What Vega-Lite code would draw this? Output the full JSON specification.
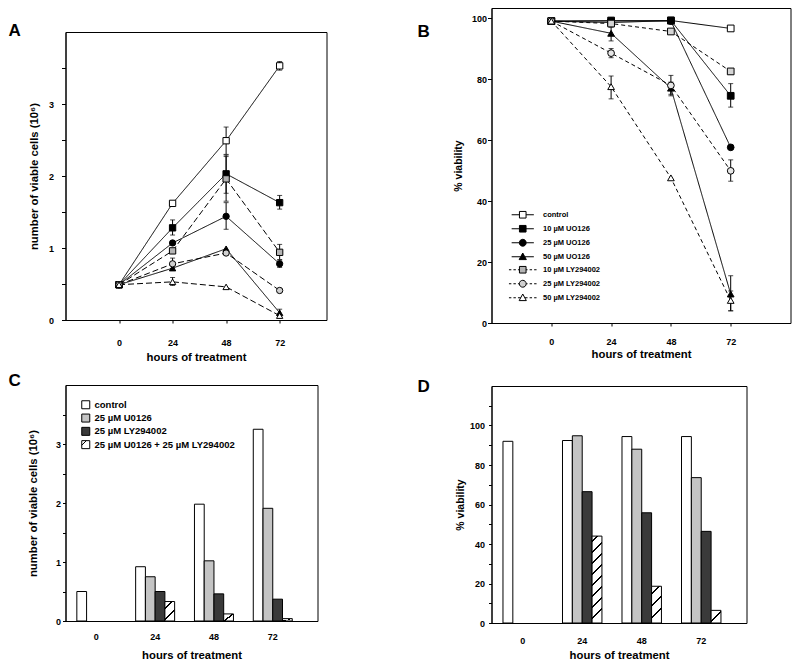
{
  "padding": {"left": 7.5, "top": 7, "right": 0, "bottom": 0},
  "datasets": {
    "A": [
      {"series": "control", "hour": 0, "value": 0.49}, {"series": "control", "hour": 24, "value": 1.62}, {"series": "control", "hour": 48, "value": 2.49}, {"series": "control", "hour": 72, "value": 3.53},
      {"series": "10 µM UO126", "hour": 0, "value": 0.49}, {"series": "10 µM UO126", "hour": 24, "value": 1.28}, {"series": "10 µM UO126", "hour": 48, "value": 2.03}, {"series": "10 µM UO126", "hour": 72, "value": 1.63},
      {"series": "25 µM UO126", "hour": 0, "value": 0.49}, {"series": "25 µM UO126", "hour": 24, "value": 1.07}, {"series": "25 µM UO126", "hour": 48, "value": 1.44}, {"series": "25 µM UO126", "hour": 72, "value": 0.78},
      {"series": "50 µM UO126", "hour": 0, "value": 0.49}, {"series": "50 µM UO126", "hour": 24, "value": 0.72}, {"series": "50 µM UO126", "hour": 48, "value": 0.99}, {"series": "50 µM UO126", "hour": 72, "value": 0.10},
      {"series": "10 µM LY294002", "hour": 0, "value": 0.49}, {"series": "10 µM LY294002", "hour": 24, "value": 0.96}, {"series": "10 µM LY294002", "hour": 48, "value": 1.96}, {"series": "10 µM LY294002", "hour": 72, "value": 0.94},
      {"series": "25 µM LY294002", "hour": 0, "value": 0.49}, {"series": "25 µM LY294002", "hour": 24, "value": 0.78}, {"series": "25 µM LY294002", "hour": 48, "value": 0.93}, {"series": "25 µM LY294002", "hour": 72, "value": 0.41},
      {"series": "50 µM LY294002", "hour": 0, "value": 0.49}, {"series": "50 µM LY294002", "hour": 24, "value": 0.53}, {"series": "50 µM LY294002", "hour": 48, "value": 0.46}, {"series": "50 µM LY294002", "hour": 72, "value": 0.06}
    ],
    "Aerr": [
      {"series": "control", "hour": 48, "lo": 2.30, "hi": 2.68}, {"series": "control", "hour": 72, "lo": 3.47, "hi": 3.59},
      {"series": "10 µM UO126", "hour": 24, "lo": 1.18, "hi": 1.39}, {"series": "10 µM UO126", "hour": 48, "lo": 1.76, "hi": 2.29}, {"series": "10 µM UO126", "hour": 72, "lo": 1.54, "hi": 1.73},
      {"series": "25 µM UO126", "hour": 48, "lo": 1.26, "hi": 1.63}, {"series": "25 µM UO126", "hour": 72, "lo": 0.73, "hi": 0.83},
      {"series": "50 µM UO126", "hour": 72, "lo": 0.05, "hi": 0.15},
      {"series": "10 µM LY294002", "hour": 48, "lo": 1.65, "hi": 2.27}, {"series": "10 µM LY294002", "hour": 72, "lo": 0.84, "hi": 1.05},
      {"series": "25 µM LY294002", "hour": 24, "lo": 0.71, "hi": 0.86},
      {"series": "50 µM LY294002", "hour": 24, "lo": 0.48, "hi": 0.59}
    ],
    "B": [
      {"series": "control", "hour": 0, "value": 99}, {"series": "control", "hour": 24, "value": 98.5}, {"series": "control", "hour": 48, "value": 99.2}, {"series": "control", "hour": 72, "value": 96.6},
      {"series": "10 µM UO126", "hour": 0, "value": 99}, {"series": "10 µM UO126", "hour": 24, "value": 99.2}, {"series": "10 µM UO126", "hour": 48, "value": 99.2}, {"series": "10 µM UO126", "hour": 72, "value": 74.5},
      {"series": "25 µM UO126", "hour": 0, "value": 99}, {"series": "25 µM UO126", "hour": 24, "value": 99}, {"series": "25 µM UO126", "hour": 48, "value": 99}, {"series": "25 µM UO126", "hour": 72, "value": 57.6},
      {"series": "50 µM UO126", "hour": 0, "value": 99}, {"series": "50 µM UO126", "hour": 24, "value": 95}, {"series": "50 µM UO126", "hour": 48, "value": 77}, {"series": "50 µM UO126", "hour": 72, "value": 9.5},
      {"series": "10 µM LY294002", "hour": 0, "value": 99}, {"series": "10 µM LY294002", "hour": 24, "value": 98.2}, {"series": "10 µM LY294002", "hour": 48, "value": 95.6}, {"series": "10 µM LY294002", "hour": 72, "value": 82.5},
      {"series": "25 µM LY294002", "hour": 0, "value": 99}, {"series": "25 µM LY294002", "hour": 24, "value": 88.5}, {"series": "25 µM LY294002", "hour": 48, "value": 77.9}, {"series": "25 µM LY294002", "hour": 72, "value": 49.9},
      {"series": "50 µM LY294002", "hour": 0, "value": 99}, {"series": "50 µM LY294002", "hour": 24, "value": 77.5}, {"series": "50 µM LY294002", "hour": 48, "value": 47.6}, {"series": "50 µM LY294002", "hour": 72, "value": 7.4}
    ],
    "Berr": [
      {"series": "10 µM UO126", "hour": 72, "lo": 70.8, "hi": 78.5},
      {"series": "50 µM UO126", "hour": 24, "lo": 92.5, "hi": 97},
      {"series": "50 µM UO126", "hour": 48, "lo": 75, "hi": 79},
      {"series": "50 µM UO126", "hour": 72, "lo": 4, "hi": 15.5},
      {"series": "25 µM LY294002", "hour": 24, "lo": 87, "hi": 90},
      {"series": "25 µM LY294002", "hour": 48, "lo": 74.5, "hi": 81.2},
      {"series": "25 µM LY294002", "hour": 72, "lo": 46.5, "hi": 53.5},
      {"series": "50 µM LY294002", "hour": 24, "lo": 73.5, "hi": 81},
      {"series": "50 µM LY294002", "hour": 72, "lo": 4, "hi": 10.5}
    ],
    "C": [
      {"hour": "0", "treatment": "control", "value": 0.50},
      {"hour": "24", "treatment": "control", "value": 0.92}, {"hour": "24", "treatment": "25 µM U0126", "value": 0.75}, {"hour": "24", "treatment": "25 µM LY294002", "value": 0.50}, {"hour": "24", "treatment": "25 µM U0126 + 25 µM LY294002", "value": 0.33},
      {"hour": "48", "treatment": "control", "value": 1.98}, {"hour": "48", "treatment": "25 µM U0126", "value": 1.02}, {"hour": "48", "treatment": "25 µM LY294002", "value": 0.46}, {"hour": "48", "treatment": "25 µM U0126 + 25 µM LY294002", "value": 0.12},
      {"hour": "72", "treatment": "control", "value": 3.25}, {"hour": "72", "treatment": "25 µM U0126", "value": 1.91}, {"hour": "72", "treatment": "25 µM LY294002", "value": 0.37}, {"hour": "72", "treatment": "25 µM U0126 + 25 µM LY294002", "value": 0.04}
    ],
    "D": [
      {"hour": "0", "treatment": "control", "value": 92.0},
      {"hour": "24", "treatment": "control", "value": 92.4}, {"hour": "24", "treatment": "25 µM U0126", "value": 94.8}, {"hour": "24", "treatment": "25 µM LY294002", "value": 66.5}, {"hour": "24", "treatment": "25 µM U0126 + 25 µM LY294002", "value": 44.0},
      {"hour": "48", "treatment": "control", "value": 94.4}, {"hour": "48", "treatment": "25 µM U0126", "value": 88.0}, {"hour": "48", "treatment": "25 µM LY294002", "value": 55.8}, {"hour": "48", "treatment": "25 µM U0126 + 25 µM LY294002", "value": 18.6},
      {"hour": "72", "treatment": "control", "value": 94.4}, {"hour": "72", "treatment": "25 µM U0126", "value": 73.6}, {"hour": "72", "treatment": "25 µM LY294002", "value": 46.4}, {"hour": "72", "treatment": "25 µM U0126 + 25 µM LY294002", "value": 6.4}
    ]
  },
  "config": {
    "font": "Liberation Sans",
    "view": {"stroke": "black", "strokeWidth": 1},
    "axis": {"grid": false, "domainColor": "black", "tickColor": "black", "labelColor": "black", "titleColor": "black", "labelFont": "Liberation Sans", "labelFontWeight": "bold", "labelFontSize": 9, "titleFont": "Liberation Sans", "titleFontWeight": "bold", "titleFontSize": 11.3, "tickSize": 4, "labelOverlap": false, "labelFlush": false},
    "title": {"font": "Liberation Sans", "fontWeight": "bold", "fontSize": 17, "anchor": "start", "frame": "group", "offset": 0, "color": "black"},
    "legend": {"labelFont": "Liberation Sans", "labelFontWeight": "bold", "labelColor": "black", "symbolOpacity": 1}
  },
  "resolve": {"scale": {"shape": "independent", "fill": "independent", "stroke": "independent", "strokeDash": "independent", "xOffset": "independent"}, "legend": {"shape": "independent", "fill": "independent", "stroke": "independent", "strokeDash": "independent"}},
  "spacing": 89,
  "hconcat": [
    {
      "spacing": 8,
      "resolve": {"scale": {"shape": "independent", "fill": "independent", "stroke": "independent", "strokeDash": "independent", "xOffset": "independent"}, "legend": {"shape": "independent", "fill": "independent", "stroke": "independent", "strokeDash": "independent"}},
      "vconcat": [
        {
          "width": 1, "height": 5,
          "view": {"stroke": null},
          "data": {"values": []},
          "mark": {"type": "point", "opacity": 0},
          "encoding": {}
        },
        {
          "width": 261, "height": 288,
          "title": {"text": "A", "baseline": "alphabetic", "dx": -57, "dy": 25},
          "layer": [
            {
              "data": {"name": "A"},
              "mark": {"type": "line", "color": "black", "strokeWidth": 1},
              "encoding": {
                "x": {"field": "hour", "type": "quantitative", "title": "hours of treatment", "scale": {"domain": [-24, 93], "nice": false, "zero": false}, "axis": {"values": [0, 24, 48, 72], "tickSize": 3, "labelPadding": 15, "titlePadding": 4}},
                "y": {"field": "value", "type": "quantitative", "title": "number of viable cells  (10⁶)", "scale": {"domain": [0, 4], "nice": false}, "axis": {"values": [0, 0.5, 1, 1.5, 2, 2.5, 3, 3.5], "format": ".0f", "labelExpr": "datum.value % 1 === 0 ? datum.label : ''", "labelPadding": 8, "titlePadding": 9}},
                "detail": {"field": "series"},
                "strokeDash": {"field": "series", "type": "nominal", "legend": null, "scale": {"domain": ["control", "10 µM UO126", "25 µM UO126", "50 µM UO126", "10 µM LY294002", "25 µM LY294002", "50 µM LY294002"], "range": [[1, 0], [1, 0], [1, 0], [1, 0], [6, 3], [6, 3], [6, 3]]}}
              }
            },
            {
              "data": {"name": "Aerr"},
              "mark": {"type": "errorbar", "ticks": true, "color": "black", "thickness": 1, "size": 5},
              "encoding": {
                "x": {"field": "hour", "type": "quantitative", "title": "hours of treatment", "scale": {"domain": [-24, 93], "nice": false, "zero": false}},
                "y": {"field": "lo", "type": "quantitative", "title": "number of viable cells  (10⁶)", "scale": {"domain": [0, 4], "nice": false}},
                "y2": {"field": "hi"}
              }
            },
            {
              "data": {"name": "A"},
              "mark": {"type": "point", "filled": true, "stroke": "black", "strokeWidth": 1, "size": 40, "opacity": 1},
              "encoding": {
                "x": {"field": "hour", "type": "quantitative", "title": "hours of treatment", "scale": {"domain": [-24, 93], "nice": false, "zero": false}},
                "y": {"field": "value", "type": "quantitative", "title": "number of viable cells  (10⁶)", "scale": {"domain": [0, 4], "nice": false}},
                "shape": {"field": "series", "type": "nominal", "legend": null, "scale": {"domain": ["control", "10 µM UO126", "25 µM UO126", "50 µM UO126", "10 µM LY294002", "25 µM LY294002", "50 µM LY294002"], "range": ["square", "square", "circle", "triangle-up", "square", "circle", "triangle-up"]}},
                "fill": {"field": "series", "type": "nominal", "legend": null, "scale": {"domain": ["control", "10 µM UO126", "25 µM UO126", "50 µM UO126", "10 µM LY294002", "25 µM LY294002", "50 µM LY294002"], "range": ["white", "black", "black", "black", "#b4b4b4", "#d0d0d0", "white"]}}
              }
            }
          ]
        },
        {
          "width": 252, "height": 236,
          "title": {"text": "C", "baseline": "alphabetic", "dx": -57, "dy": 22},
          "data": {"name": "C"},
          "resolve": {"scale": {"fill": "independent", "shape": "independent", "stroke": "independent"}, "legend": {"fill": "independent", "shape": "independent", "stroke": "independent"}},
          "encoding": {
            "x": {"field": "hour", "type": "ordinal", "sort": ["0", "24", "48", "72"], "title": "hours of treatment", "scale": {"paddingInner": 0.337, "paddingOuter": 0.311, "align": 0.31}, "axis": {"labelAngle": 0, "tickSize": 0, "labelPadding": 11, "titlePadding": 8}},
            "xOffset": {"field": "treatment", "type": "nominal", "scale": {"domain": ["control", "25 µM U0126", "25 µM LY294002", "25 µM U0126 + 25 µM LY294002"], "paddingInner": 0, "paddingOuter": 0}},
            "y": {"field": "value", "type": "quantitative", "title": "number of viable cells  (10⁶)", "scale": {"domain": [0, 4], "nice": false}, "axis": {"values": [0, 0.5, 1, 1.5, 2, 2.5, 3, 3.5], "format": ".0f", "labelExpr": "datum.value % 1 === 0 ? datum.label : ''", "tickSize": 3, "labelPadding": 2, "titlePadding": 17}}
          },
          "layer": [
            {
              "mark": {"type": "bar", "stroke": "black", "strokeWidth": 1},
              "encoding": {
                "fill": {
                  "condition": [
                    {"test": "datum.treatment === '25 µM U0126 + 25 µM LY294002' && datum.value > 0.2", "value": {"gradient": "linear", "x1": 0, "y1": 0, "x2": 0.5, "y2": 1, "stops": [
                      {"offset": 0, "color": "white"}, {"offset": 0.265, "color": "white"}, {"offset": 0.265, "color": "black"}, {"offset": 0.335, "color": "black"}, {"offset": 0.335, "color": "white"},
                      {"offset": 0.715, "color": "white"}, {"offset": 0.715, "color": "black"}, {"offset": 0.785, "color": "black"}, {"offset": 0.785, "color": "white"}, {"offset": 1, "color": "white"}]}},
                    {"test": "datum.treatment === '25 µM U0126 + 25 µM LY294002'", "value": {"gradient": "linear", "x1": 0, "y1": 0, "x2": 1, "y2": 1, "stops": [
                      {"offset": 0, "color": "white"}, {"offset": 0.44, "color": "white"}, {"offset": 0.44, "color": "black"}, {"offset": 0.56, "color": "black"}, {"offset": 0.56, "color": "white"}, {"offset": 1, "color": "white"}]}}
                  ],
                  "field": "treatment", "type": "nominal",
                  "scale": {"domain": ["control", "25 µM U0126", "25 µM LY294002", "25 µM U0126 + 25 µM LY294002"], "range": ["white", "#c4c4c4", "#3a3a3a", "white"]},
                  "legend": null
                }
              }
            },
            {
              "mark": {"type": "point", "filled": true, "stroke": "black", "strokeWidth": 1, "opacity": 0},
              "encoding": {
                "fill": {"field": "treatment", "type": "nominal",
                  "scale": {"domain": ["control", "25 µM U0126", "25 µM LY294002", "25 µM U0126 + 25 µM LY294002"], "range": ["white", "#c4c4c4", "#3a3a3a", "white"]},
                  "legend": {"title": null, "orient": "none", "legendX": 15.5, "legendY": 15, "padding": 0, "symbolSize": 64, "symbolStrokeColor": "black", "symbolStrokeWidth": 1, "symbolOpacity": 1, "labelFontSize": 9.5, "labelOffset": 4, "rowPadding": 0.3}},
                "shape": {"field": "treatment", "type": "nominal",
                  "scale": {"domain": ["control", "25 µM U0126", "25 µM LY294002", "25 µM U0126 + 25 µM LY294002"], "range": ["square", "square", "square", "M-1,-1H1V1H-1ZM-1,0.15L0.15,-1"]},
                  "legend": {"title": null, "orient": "none", "legendX": 15.5, "legendY": 15, "padding": 0, "symbolSize": 64, "symbolStrokeColor": "black", "symbolStrokeWidth": 1, "symbolOpacity": 1, "labelFontSize": 9.5, "labelOffset": 4, "rowPadding": 0.3}},
                "stroke": {"field": "treatment", "type": "nominal",
                  "scale": {"domain": ["control", "25 µM U0126", "25 µM LY294002", "25 µM U0126 + 25 µM LY294002"], "range": ["black", "black", "black", "black"]},
                  "legend": {"title": null, "orient": "none", "legendX": 15.5, "legendY": 15, "padding": 0, "symbolSize": 64, "symbolStrokeColor": "black", "symbolStrokeWidth": 1, "symbolOpacity": 1, "labelFontSize": 9.5, "labelOffset": 4, "rowPadding": 0.3}}
              }
            }
          ]
        }
      ]
    },
    {
      "spacing": 17,
      "resolve": {"scale": {"shape": "independent", "fill": "independent", "stroke": "independent", "strokeDash": "independent", "xOffset": "independent"}, "legend": {"shape": "independent", "fill": "independent", "stroke": "independent", "strokeDash": "independent"}},
      "vconcat": [
        {
          "width": 299, "height": 315,
          "title": {"text": "B", "baseline": "alphabetic", "dx": -74, "dy": 50},
          "resolve": {"scale": {"shape": "independent", "fill": "independent", "stroke": "independent"}, "legend": {"shape": "independent", "fill": "independent", "stroke": "independent"}},
          "layer": [
            {
              "data": {"name": "B"},
              "mark": {"type": "line", "color": "black", "strokeWidth": 1},
              "encoding": {
                "x": {"field": "hour", "type": "quantitative", "title": "hours of treatment", "scale": {"domain": [-24, 96], "nice": false, "zero": false}, "axis": {"values": [0, 24, 48, 72], "tickSize": 3, "labelPadding": 11, "titlePadding": 2}},
                "y": {"field": "value", "type": "quantitative", "title": "% viability", "scale": {"domain": [0, 103.3], "nice": false}, "axis": {"values": [0, 10, 20, 30, 40, 50, 60, 70, 80, 90, 100], "labelExpr": "datum.value % 20 === 0 ? datum.label : ''", "labelPadding": 1, "titlePadding": 8, "titleFontSize": 10.5}},
                "detail": {"field": "series"},
                "strokeDash": {"field": "series", "type": "nominal", "legend": null, "scale": {"domain": ["control", "10 µM UO126", "25 µM UO126", "50 µM UO126", "10 µM LY294002", "25 µM LY294002", "50 µM LY294002"], "range": [[1, 0], [1, 0], [1, 0], [1, 0], [4, 3], [4, 3], [4, 3]]}}
              }
            },
            {
              "data": {"name": "Berr"},
              "mark": {"type": "errorbar", "ticks": true, "color": "black", "thickness": 1, "size": 5},
              "encoding": {
                "x": {"field": "hour", "type": "quantitative", "title": "hours of treatment", "scale": {"domain": [-24, 96], "nice": false, "zero": false}},
                "y": {"field": "lo", "type": "quantitative", "title": "% viability", "scale": {"domain": [0, 103.3], "nice": false}},
                "y2": {"field": "hi"}
              }
            },
            {
              "data": {"name": "B"},
              "mark": {"type": "point", "filled": true, "stroke": "black", "strokeWidth": 1, "size": 45, "opacity": 1},
              "encoding": {
                "x": {"field": "hour", "type": "quantitative", "title": "hours of treatment", "scale": {"domain": [-24, 96], "nice": false, "zero": false}},
                "y": {"field": "value", "type": "quantitative", "title": "% viability", "scale": {"domain": [0, 103.3], "nice": false}},
                "shape": {"field": "series", "type": "nominal", "legend": null, "scale": {"domain": ["control", "10 µM UO126", "25 µM UO126", "50 µM UO126", "10 µM LY294002", "25 µM LY294002", "50 µM LY294002"], "range": ["square", "square", "circle", "triangle-up", "square", "circle", "triangle-up"]}},
                "fill": {"field": "series", "type": "nominal", "legend": null, "scale": {"domain": ["control", "10 µM UO126", "25 µM UO126", "50 µM UO126", "10 µM LY294002", "25 µM LY294002", "50 µM LY294002"], "range": ["white", "black", "black", "black", "#d4d4d4", "#e6e6e6", "white"]}}
              }
            },
            {
              "data": {"name": "B"},
              "mark": {"type": "point", "filled": true, "stroke": "black", "strokeWidth": 1, "size": 36, "opacity": 0},
              "encoding": {
                "x": {"field": "hour", "type": "quantitative", "title": "hours of treatment", "scale": {"domain": [-24, 96], "nice": false, "zero": false}},
                "y": {"field": "value", "type": "quantitative", "title": "% viability", "scale": {"domain": [0, 103.3], "nice": false}},
                "shape": {"field": "series", "type": "nominal",
                  "scale": {"domain": ["control", "10 µM UO126", "25 µM UO126", "50 µM UO126", "10 µM LY294002", "25 µM LY294002", "50 µM LY294002"],
                    "range": [
                      "M-3.7,0H-1.1M1.1,0H3.7M-1.1,-1.1H1.1V1.1H-1.1Z",
                      "M-3.7,0H-1.1M1.1,0H3.7M-1.1,-1.1H1.1V1.1H-1.1Z",
                      "M-3.7,0H-1.15M1.15,0H3.7M-1.15,0A1.15,1.15,0,1,1,1.15,0A1.15,1.15,0,1,1,-1.15,0Z",
                      "M-3.7,0H-0.7M0.7,0H3.7M0,-1.25L1.2,0.95H-1.2Z",
                      "M-4.6,0H-3.8M-3.1,0H-2.3M-1.6,0H-1.1M1.1,0H1.6M2.3,0H3.1M3.8,0H4.6M-1.1,-1.1H1.1V1.1H-1.1Z",
                      "M-4.6,0H-3.8M-3.1,0H-2.3M-1.6,0H-1.15M1.15,0H1.6M2.3,0H3.1M3.8,0H4.6M-1.15,0A1.15,1.15,0,1,1,1.15,0A1.15,1.15,0,1,1,-1.15,0Z",
                      "M-4.6,0H-3.8M-3.1,0H-2.3M-1.6,0H-0.7M0.7,0H1.6M2.3,0H3.1M3.8,0H4.6M0,-1.25L1.2,0.95H-1.2Z"
                    ]},
                  "legend": {"title": null, "orient": "none", "legendX": 27.5, "legendY": 203, "padding": 0, "symbolSize": 36, "symbolStrokeWidth": 1, "symbolStrokeColor": "black", "symbolOpacity": 1, "labelFontSize": 7.5, "labelOffset": 16.5, "rowPadding": 2}
                },
                "fill": {"field": "series", "type": "nominal",
                  "scale": {"domain": ["control", "10 µM UO126", "25 µM UO126", "50 µM UO126", "10 µM LY294002", "25 µM LY294002", "50 µM LY294002"], "range": ["white", "black", "black", "black", "#b4b4b4", "#d0d0d0", "white"]},
                  "legend": {"title": null, "orient": "none", "legendX": 27.5, "legendY": 203, "padding": 0, "symbolSize": 36, "symbolStrokeWidth": 1, "symbolStrokeColor": "black", "symbolOpacity": 1, "labelFontSize": 7.5, "labelOffset": 16.5, "rowPadding": 2}
                },
                "stroke": {"field": "series", "type": "nominal",
                  "scale": {"domain": ["control", "10 µM UO126", "25 µM UO126", "50 µM UO126", "10 µM LY294002", "25 µM LY294002", "50 µM LY294002"], "range": ["black", "black", "black", "black", "black", "black", "black"]},
                  "legend": {"title": null, "orient": "none", "legendX": 27.5, "legendY": 203, "padding": 0, "symbolSize": 36, "symbolStrokeWidth": 1, "symbolStrokeColor": "black", "symbolOpacity": 1, "labelFontSize": 7.5, "labelOffset": 16.5, "rowPadding": 2}
                }
              }
            }
          ]
        },
        {
          "width": 255, "height": 237,
          "title": {"text": "D", "baseline": "alphabetic", "dx": -74, "dy": 27},
          "data": {"name": "D"},
          "mark": {"type": "bar", "stroke": "black", "strokeWidth": 1},
          "encoding": {
            "x": {"field": "hour", "type": "ordinal", "sort": ["0", "24", "48", "72"], "title": "hours of treatment", "scale": {"paddingInner": 0.337, "paddingOuter": 0.311, "align": 0.31}, "axis": {"labelAngle": 0, "tickSize": 0, "labelPadding": 13, "titlePadding": 4}},
            "xOffset": {"field": "treatment", "type": "nominal", "scale": {"domain": ["control", "25 µM U0126", "25 µM LY294002", "25 µM U0126 + 25 µM LY294002"], "paddingInner": 0, "paddingOuter": 0}},
            "y": {"field": "value", "type": "quantitative", "title": "% viability", "scale": {"domain": [0, 120], "nice": false}, "axis": {"values": [0, 10, 20, 30, 40, 50, 60, 70, 80, 90, 100, 110], "labelExpr": "datum.value % 20 === 0 && datum.value <= 100 ? datum.label : ''", "tickSize": 3, "labelPadding": 4, "titlePadding": 4, "titleFontSize": 10.5}},
            "fill": {
              "condition": [
                {"test": "datum.treatment === '25 µM U0126 + 25 µM LY294002' && datum.value > 30", "value": {"gradient": "linear", "x1": 0, "y1": 0, "x2": 0.12, "y2": 1, "stops": [
                  {"offset": 0, "color": "white"},
                  {"offset": 0.053, "color": "white"}, {"offset": 0.053, "color": "black"}, {"offset": 0.072, "color": "black"}, {"offset": 0.072, "color": "white"},
                  {"offset": 0.178, "color": "white"}, {"offset": 0.178, "color": "black"}, {"offset": 0.197, "color": "black"}, {"offset": 0.197, "color": "white"},
                  {"offset": 0.303, "color": "white"}, {"offset": 0.303, "color": "black"}, {"offset": 0.322, "color": "black"}, {"offset": 0.322, "color": "white"},
                  {"offset": 0.428, "color": "white"}, {"offset": 0.428, "color": "black"}, {"offset": 0.447, "color": "black"}, {"offset": 0.447, "color": "white"},
                  {"offset": 0.553, "color": "white"}, {"offset": 0.553, "color": "black"}, {"offset": 0.572, "color": "black"}, {"offset": 0.572, "color": "white"},
                  {"offset": 0.678, "color": "white"}, {"offset": 0.678, "color": "black"}, {"offset": 0.697, "color": "black"}, {"offset": 0.697, "color": "white"},
                  {"offset": 0.803, "color": "white"}, {"offset": 0.803, "color": "black"}, {"offset": 0.822, "color": "black"}, {"offset": 0.822, "color": "white"},
                  {"offset": 0.928, "color": "white"}, {"offset": 0.928, "color": "black"}, {"offset": 0.947, "color": "black"}, {"offset": 0.947, "color": "white"},
                  {"offset": 1, "color": "white"}]}},
                {"test": "datum.treatment === '25 µM U0126 + 25 µM LY294002' && datum.value > 12", "value": {"gradient": "linear", "x1": 0, "y1": 0, "x2": 0.27, "y2": 1, "stops": [
                  {"offset": 0, "color": "white"},
                  {"offset": 0.18, "color": "white"}, {"offset": 0.18, "color": "black"}, {"offset": 0.22, "color": "black"}, {"offset": 0.22, "color": "white"},
                  {"offset": 0.48, "color": "white"}, {"offset": 0.48, "color": "black"}, {"offset": 0.52, "color": "black"}, {"offset": 0.52, "color": "white"},
                  {"offset": 0.78, "color": "white"}, {"offset": 0.78, "color": "black"}, {"offset": 0.82, "color": "black"}, {"offset": 0.82, "color": "white"},
                  {"offset": 1, "color": "white"}]}},
                {"test": "datum.treatment === '25 µM U0126 + 25 µM LY294002'", "value": {"gradient": "linear", "x1": 0, "y1": 0, "x2": 0.8, "y2": 1, "stops": [
                  {"offset": 0, "color": "white"}, {"offset": 0.5, "color": "white"}, {"offset": 0.5, "color": "black"}, {"offset": 0.6, "color": "black"}, {"offset": 0.6, "color": "white"}, {"offset": 1, "color": "white"}]}}
              ],
              "field": "treatment", "type": "nominal",
              "scale": {"domain": ["control", "25 µM U0126", "25 µM LY294002", "25 µM U0126 + 25 µM LY294002"], "range": ["white", "#c4c4c4", "#3a3a3a", "white"]},
              "legend": null
            }
          }
        }
      ]
    }
  ]
}
